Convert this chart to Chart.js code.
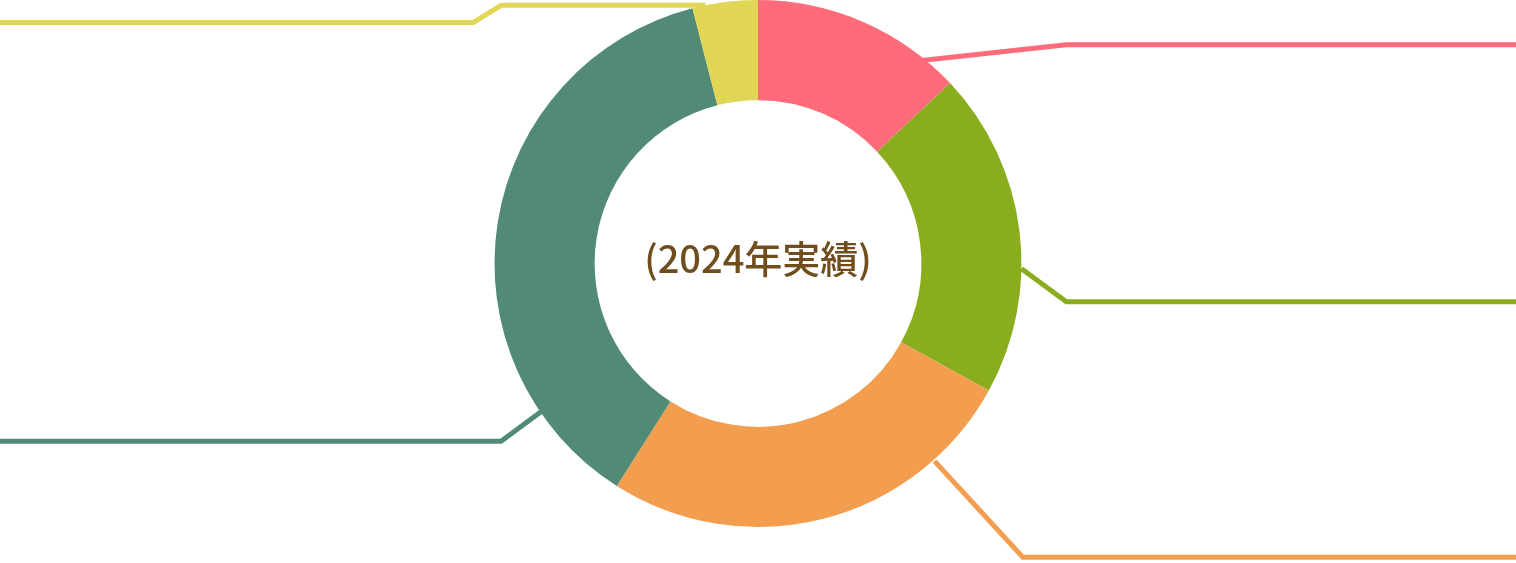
<!DOCTYPE html>
<html>
<head>
<meta charset="utf-8">
<script src="https://cdn.jsdelivr.net/npm/chart.js@4"></script>
<style>
html,body{margin:0;padding:0;background:#fff;}
#wrap{position:relative;width:1516px;height:563px;}
</style>
</head>
<body>
<div id="wrap"><canvas id="c"></canvas></div>
<script>
const categories = ['区分1', '区分2', '区分3', '区分4', '区分5'];
const shares = [13, 20, 26, 37, 4];
const sliceColors = ['#ff6b7b', '#8aad1d', '#f39d4f', '#518a75', '#e1d655'];
const centerLabel = '(2024年実績)';

// leader line geometry (relative to doughnut centre, in units of outer radius)
const leaders = [
  { pts: [[0.62, -0.77], [1.17, -0.83]], endSide: 'right' },
  { pts: [[1.00, 0.02], [1.17, 0.145]], endSide: 'right' },
  { pts: [[0.67, 0.75], [1.005, 1.115]], endSide: 'right' },
  { pts: [[-0.82, 0.56], [-0.975, 0.675]], endSide: 'left' },
  { pts: [[-0.20, -0.98], [-0.975, -0.98], [-1.08, -0.915]], endSide: 'left' }
];

const leaderPlugin = {
  id: 'leaders',
  beforeDatasetsDraw(chart) {
    const meta = chart.getDatasetMeta(0);
    const arc = meta.data[0];
    if (!arc) return;
    const cx = arc.x, cy = arc.y, r = arc.outerRadius;
    const ctx = chart.ctx;
    ctx.save();
    ctx.lineWidth = 5;
    ctx.lineJoin = 'miter';
    leaders.forEach((l, i) => {
      ctx.strokeStyle = sliceColors[i];
      ctx.beginPath();
      l.pts.forEach((p, j) => {
        const x = cx + p[0] * r, y = cy + p[1] * r;
        if (j === 0) ctx.moveTo(x, y); else ctx.lineTo(x, y);
      });
      const last = l.pts[l.pts.length - 1];
      ctx.lineTo(l.endSide === 'right' ? chart.width : 0, cy + last[1] * r);
      ctx.stroke();
    });
    ctx.restore();
  },
  afterDatasetsDraw(chart) {
    const arc = chart.getDatasetMeta(0).data[0];
    if (!arc) return;
    const ctx = chart.ctx;
    ctx.save();
    ctx.fillStyle = '#6f4d1c';
    ctx.font = '500 38px "Noto Sans CJK JP", "Noto Sans", sans-serif';
    ctx.textAlign = 'center';
    ctx.textBaseline = 'middle';
    ctx.fillText(centerLabel, arc.x, arc.y - 5);
    ctx.restore();
  }
};

new Chart(document.getElementById('c'), {
  type: 'doughnut',
  data: {
    labels: categories,
    datasets: [{
      data: shares,
      backgroundColor: sliceColors,
      borderWidth: 0,
      hoverOffset: 0
    }]
  },
  options: {
    responsive: true,
    maintainAspectRatio: false,
    animation: false,
    cutout: '62%',
    layout: { padding: { top: 0, bottom: 36, left: 0, right: 0 } },
    plugins: {
      legend: { display: false },
      tooltip: { enabled: false }
    }
  },
  plugins: [leaderPlugin]
});
</script>
</body>
</html>
